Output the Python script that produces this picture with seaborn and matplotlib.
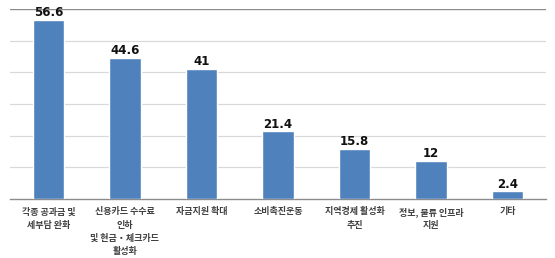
import matplotlib
matplotlib.use("Agg")
import matplotlib.pyplot as plt
import seaborn as sns
import pandas as pd
import numpy as np

categories = ["각종 공과금 및\n세부담 완화",
              "신용카드 수수료\n인하\n및 현금・체크카드\n활성화",
              "자금지원 확대",
              "소비촉진운동",
              "지역경제 활성화\n추진",
              "정보, 물류 인프라\n지원",
              "기타"]
values = [56.6, 44.6, 41, 21.4, 15.8, 12, 2.4]
value_labels = ["56.6", "44.6", "41", "21.4", "15.8", "12", "2.4"]

sns.set_theme(style="white")
plt.rcParams['font.family'] = ['Noto Sans CJK KR', 'DejaVu Sans']

df = pd.DataFrame({"cat": categories, "val": values})

fig = plt.figure(figsize=(5.55, 2.58), dpi=100)
ax = fig.add_axes([10/555, 1-199/258, 536/555, 190/258])

sns.barplot(data=df, x="cat", y="val", color="#4F81BD", saturation=1,
            width=0.41, ax=ax, zorder=3)

ax.set_ylim(0, 60)
ax.set_xlim(-0.5, len(categories) - 0.5)
for yv in range(10, 60, 10):
    ax.axhline(yv, color="#d9d9d9", lw=0.9, zorder=1)
ax.axhline(60, color="#8c8c8c", lw=1.0, zorder=1)

for s in ["left", "right", "top"]:
    ax.spines[s].set_visible(False)
ax.spines["bottom"].set_color("#8c8c8c")
ax.spines["bottom"].set_linewidth(1.0)

ax.set_yticks([])
ax.set_xlabel("")
ax.set_ylabel("")
ax.set_xticks(range(len(categories)))
ax.set_xticklabels(categories, fontsize=6.5, color="#404040", linespacing=1.6,
                   fontweight="bold")
ax.tick_params(axis="x", which="major", length=0, pad=6)
ax.set_xticks(np.arange(-0.5, len(categories), 1.0), minor=True)
ax.tick_params(axis="x", which="minor", length=4, width=0.8, color="#8c8c8c", direction="out")

for p, lab in zip(ax.patches, value_labels):
    ax.annotate(lab, (p.get_x() + p.get_width() / 2, p.get_height()),
                xytext=(0, 0.5), textcoords="offset points",
                ha="center", va="bottom", fontsize=8.5, fontweight="bold",
                color="#111111", family=["DejaVu Sans"])

fig.savefig("out.png", dpi=100)
